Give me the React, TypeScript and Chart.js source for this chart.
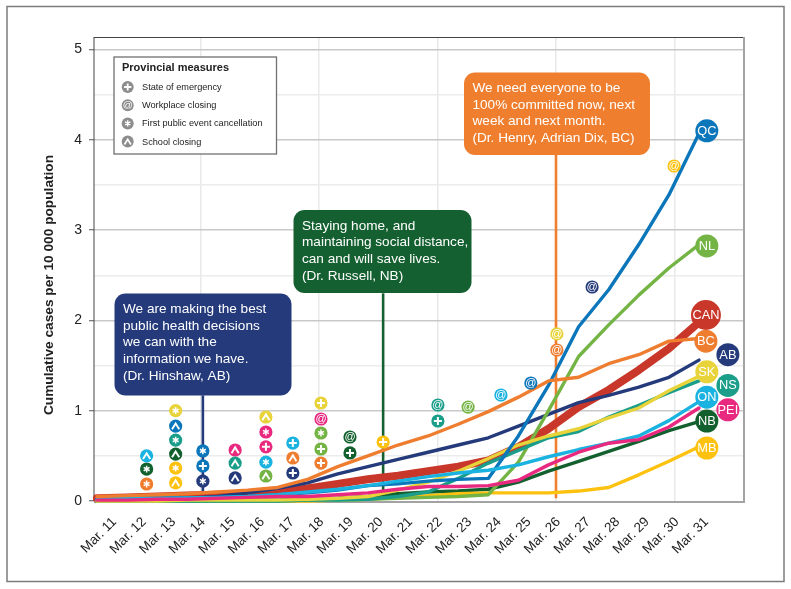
import React, { useEffect, useRef } from "react";
import { Chart, registerables } from "chart.js";

Chart.register(...registerables);

const FONT = '"Liberation Sans", Arial, sans-serif';

const dayLabels = ["Mar. 11","Mar. 12","Mar. 13","Mar. 14","Mar. 15","Mar. 16","Mar. 17","Mar. 18","Mar. 19","Mar. 20","Mar. 21","Mar. 22","Mar. 23","Mar. 24","Mar. 25","Mar. 26","Mar. 27","Mar. 28","Mar. 29","Mar. 30","Mar. 31"];
const yTitle = "Cumulative cases per 10 000 population";

const CAN = [.03,.04,.05,.06,.07,.08,.1,.14,.19,.24,.28,.33,.38,.45,.6,.8,1.04,1.23,1.45,1.69,1.98];
const BC = [.05,.06,.07,.08,.10,.12,.15,.24,.38,.5,.62,.72,.85,.99,1.15,1.33,1.37,1.52,1.62,1.77,1.80];
const AB = [.02,.02,.03,.03,.05,.09,.14,.2,.3,.38,.46,.54,.62,.70,.83,.96,1.09,1.17,1.26,1.37,1.56];
const SK = [0,0,0,.01,.01,.01,.01,.02,.03,.05,.12,.21,.33,.47,.62,.72,.80,.92,1.03,1.22,1.38];
const NS = [0,0,0,0,0,0,0,.01,.01,.02,.05,.1,.25,.42,.56,.70,.77,.93,1.06,1.2,1.33];
const ON = [.02,.03,.03,.035,.04,.05,.07,.10,.13,.17,.22,.27,.31,.34,.40,.49,.57,.64,.72,.89,1.10];
const PEI = [.01,.01,.02,.02,.03,.04,.05,.05,.07,.09,.13,.16,.16,.17,.23,.40,.54,.64,.68,.82,1.03];
const NB = [0,0,0,0,0,.01,.01,.02,.03,.05,.08,.1,.11,.13,.21,.33,.44,.55,.66,.78,.88];
const MB = [0,0,0,0,0,0,0,0,.01,.02,.04,.06,.08,.09,.09,.09,.11,.15,.29,.44,.6];
const QC = [.02,.03,.03,.035,.04,.05,.07,.09,.12,.17,.19,.22,.24,.25,.72,1.28,1.93,2.34,2.84,3.39,4.07];
const NL = [0,0,0,0,0,0,0,.01,.01,.02,.03,.04,.05,.07,.43,1.0,1.6,1.95,2.28,2.58,2.84];

const colours: Record<string, string> = {
  CAN: "#c9372a", BC: "#ef7d30", AB: "#243a7b", SK: "#e8d33b", NS: "#1a9e8a", ON: "#1ab2e0",
  PEI: "#e8297f", NB: "#13602f", MB: "#fdc10f", QC: "#0c76bb", NL: "#74b444",
};

const seriesBottomToTop: [string, number[]][] = [
  ["CAN", CAN], ["AB", AB], ["NB", NB], ["MB", MB], ["NL", NL], ["NS", NS], ["SK", SK],
  ["QC", QC], ["ON", ON], ["PEI", PEI], ["BC", BC],
];

// [province, day position on the date axis, value]
type Mark = [string, number, number];
const emergencyMarks: Mark[] = [["QC",3.07,.388],["AB",6.11,.31],["ON",6.11,.642],["PEI",5.2,.6],["SK",7.06,1.085],["NL",7.06,.576],["BC",7.06,.42],["NB",8.04,.532],["MB",9.16,.653],["NS",11.01,.886]];
const workplaceMarks: Mark[] = [["PEI",7.06,.908],["NB",8.04,.709],["NS",11.01,1.063],["NL",12.03,1.04],["ON",13.14,1.174],["QC",14.15,1.307],["SK",15.03,1.85],["BC",15.03,1.672],["AB",16.22,2.37],["MB",18.99,3.71]];
const eventMarks: Mark[] = [["BC",1.17,.188],["NB",1.17,.354],["SK",2.15,1.0],["NS",2.15,.675],["MB",2.15,.365],["QC",3.07,.554],["AB",3.07,.22],["PEI",5.2,.764],["ON",5.2,.43],["NL",7.06,.753]];
const schoolMarks: Mark[] = [["ON",1.17,.5],["QC",2.15,.83],["NB",2.15,.52],["MB",2.15,.2],["PEI",4.16,.565],["NS",4.16,.42],["AB",4.16,.255],["SK",5.2,.93],["NL",5.2,.277],["BC",6.11,.476]];

// [province, position on the series axis, value, radius]
const endLabels: [string, number, number, number][] = [
  ["CAN",20.23,2.06,15],["BC",20.23,1.77,11.5],["AB",20.96,1.62,11.5],["NS",20.96,1.28,11.5],["SK",20.26,1.43,11.5],
  ["PEI",20.96,1.01,11.5],["ON",20.26,1.15,11.5],["NB",20.26,.886,11.5],["MB",20.26,.587,11.5],["QC",20.26,4.10,11.5],["NL",20.26,2.824,11.5],
];

const legendTitle = "Provincial measures";
const legendItems: [string, string][] = [["+","State of emergency"],["@","Workplace closing"],["*","First public event cancellation"],["^","School closing"]];

const callouts = [
  { colour: "#243a7b", box: [114.5,293.5,177,102], text: ["We are making the best","public health decisions","we can with the","information we have.","(Dr. Hinshaw, AB)"] },
  { colour: "#156030", box: [293.5,210,178,83], text: ["Staying home, and","maintaining social distance,","can and will save lives.","(Dr. Russell, NB)"] },
  { colour: "#ef7f2f", box: [464,72.5,186,82.5], text: ["We need everyone to be","100% committed now, next","week and next month.","(Dr. Henry, Adrian Dix, BC)"] },
];
// [colour, day position, top value]
const calloutStems: [string, number, number][] = [["#243a7b",3.07,1.17],["#156030",9.16,2.3],["#ef7f2f",15,3.85]];

function glyph(ctx: CanvasRenderingContext2D, kind: string, x: number, y: number, s = 1) {
  ctx.save();
  ctx.strokeStyle = "#fff";
  ctx.fillStyle = "#fff";
  ctx.lineCap = "butt";
  ctx.lineJoin = "miter";
  if (kind === "+") {
    ctx.lineWidth = 2 * s;
    ctx.beginPath();
    ctx.moveTo(x - 4 * s, y); ctx.lineTo(x + 4 * s, y);
    ctx.moveTo(x, y - 4 * s); ctx.lineTo(x, y + 4 * s);
    ctx.stroke();
  } else if (kind === "^") {
    ctx.lineWidth = 1.9 * s;
    ctx.beginPath();
    ctx.moveTo(x - 3.6 * s, y + 3.2 * s); ctx.lineTo(x, y - 2.6 * s); ctx.lineTo(x + 3.6 * s, y + 3.2 * s);
    ctx.stroke();
  } else if (kind === "*") {
    ctx.lineWidth = 1.5 * s;
    ctx.beginPath();
    for (let i = 0; i < 3; i++) {
      const a = Math.PI / 2 + (i * Math.PI) / 3;
      ctx.moveTo(x - Math.cos(a) * 3.4 * s, y - Math.sin(a) * 3.4 * s);
      ctx.lineTo(x + Math.cos(a) * 3.4 * s, y + Math.sin(a) * 3.4 * s);
    }
    ctx.stroke();
  } else {
    ctx.font = `${11 * s}px ${FONT}`;
    ctx.textAlign = "center";
    ctx.textBaseline = "middle";
    ctx.fillText(kind, x, y);
  }
  ctx.restore();
}

const decorPlugin = {
  id: "decor",
  beforeDatasetsDraw(chart: any) {
    const { ctx, chartArea: a } = chart;
    ctx.save();
    ctx.strokeStyle = "#444";
    ctx.lineWidth = 1;
    ctx.beginPath();
    ctx.moveTo(a.left, a.top + 0.5); ctx.lineTo(a.right, a.top + 0.5);
    ctx.moveTo(a.left, a.top); ctx.lineTo(a.left, a.bottom);
    ctx.stroke();
    ctx.strokeStyle = "#a3a3a3";
    ctx.lineWidth = 2;
    ctx.beginPath();
    ctx.moveTo(a.right, a.top); ctx.lineTo(a.right, a.bottom + 1);
    ctx.lineTo(a.left, a.bottom + 1);
    ctx.stroke();
    ctx.restore();
  },
  afterDatasetsDraw(chart: any) {
    const { ctx } = chart;
    chart.data.datasets.forEach((ds: any, i: number) => {
      const meta = chart.getDatasetMeta(i);
      if (ds.glyph) {
        meta.data.forEach((pt: any) => glyph(ctx, ds.glyph, pt.x, pt.y));
      }
      if (ds.endNames) {
        ctx.save();
        ctx.fillStyle = "#fff";
        ctx.textAlign = "center";
        ctx.textBaseline = "middle";
        ctx.font = `12.8px ${FONT}`;
        meta.data.forEach((pt: any, j: number) => ctx.fillText(ds.endNames[j], pt.x, pt.y + 0.5));
        ctx.restore();
      }
    });
    // callouts
    ctx.save();
    callouts.forEach((c) => {
      const [x, y, w, h] = c.box;
      ctx.fillStyle = c.colour;
      ctx.beginPath();
      ctx.roundRect(x, y, w, h, 11);
      ctx.fill();
      ctx.fillStyle = "#fff";
      ctx.font = `13.6px ${FONT}`;
      ctx.textAlign = "left";
      ctx.textBaseline = "middle";
      c.text.forEach((line, k) => ctx.fillText(line, x + 8.5, y + 16 + k * 16.6));
    });
    // legend
    ctx.fillStyle = "#fff";
    ctx.fillRect(114, 57, 162.5, 97);
    ctx.strokeStyle = "#707070";
    ctx.lineWidth = 1.3;
    ctx.strokeRect(114, 57, 162.5, 97);
    ctx.fillStyle = "#222";
    ctx.font = `bold 11px ${FONT}`;
    ctx.textAlign = "left";
    ctx.textBaseline = "middle";
    ctx.fillText(legendTitle, 122, 68);
    legendItems.forEach(([kind, name], k) => {
      const y = 87 + k * 18.2;
      ctx.fillStyle = "#8d8d8d";
      ctx.beginPath();
      ctx.arc(127.7, y, 6, 0, Math.PI * 2);
      ctx.fill();
      glyph(ctx, kind, 127.7, y, 0.9);
      ctx.fillStyle = "#222";
      ctx.font = `9.2px ${FONT}`;
      ctx.textAlign = "left";
      ctx.fillText(name, 142, y + 0.5);
    });
    ctx.restore();
  },
  afterDraw(chart: any) {
    const { ctx } = chart;
    ctx.save();
    ctx.strokeStyle = "#7c7c7c";
    ctx.lineWidth = 1.5;
    ctx.strokeRect(7, 6.5, 777, 575);
    // value-axis title
    ctx.translate(49.5, 285);
    ctx.rotate(-Math.PI / 2);
    ctx.fillStyle = "#222";
    ctx.font = `bold 13.7px ${FONT}`;
    ctx.textAlign = "center";
    ctx.textBaseline = "middle";
    ctx.fillText(yTitle, 0, 0);
    ctx.restore();
  },
};

export default function App() {
  const ref = useRef<HTMLCanvasElement>(null);
  useEffect(() => {
    const stems = calloutStems.map(([colour, x, top]) => ({
      type: "line", xAxisID: "x", yAxisID: "y",
      data: [{ x, y: 0.03 }, { x, y: top }],
      borderColor: colour, borderWidth: 2.6, pointRadius: 0,
    }));
    const lines = seriesBottomToTop.map(([name, vals]) => ({
      type: "line", label: name, xAxisID: "xSeries", yAxisID: "y",
      data: vals.map((y, i) => ({ x: i, y })),
      borderColor: colours[name], borderWidth: name === "CAN" ? 8 : 3.4,
      pointRadius: 0, tension: 0, borderJoinStyle: "round", borderCapStyle: "round", clip: false,
    }));
    const markSet = (marks: Mark[], kind: string) => ({
      type: "scatter", glyph: kind, xAxisID: "x", yAxisID: "y",
      data: marks.map(([, x, y]) => ({ x, y })),
      backgroundColor: marks.map(([p]) => colours[p]),
      pointRadius: 6.6, pointBorderWidth: 0, pointHoverRadius: 6.6, clip: false,
    });
    const marks = [markSet(emergencyMarks, "+"), markSet(workplaceMarks, "@"), markSet(eventMarks, "*"), markSet(schoolMarks, "^")];
    const ends = {
      type: "scatter", xAxisID: "xSeries", yAxisID: "y",
      endNames: endLabels.map((e) => e[0]),
      data: endLabels.map(([, x, y]) => ({ x, y })),
      backgroundColor: endLabels.map(([p]) => colours[p]),
      pointRadius: endLabels.map((e) => e[3]), pointBorderWidth: 0, clip: false,
    };
    // Chart.js paints the first dataset last, so list top-most first.
    const datasets = [...stems, ...lines, ...marks, ends].reverse();

    const chart = new Chart(ref.current as HTMLCanvasElement, {
      type: "line",
      data: { datasets } as any,
      plugins: [decorPlugin] as any,
      options: {
        animation: false,
        responsive: false,
        events: [],
        layout: { padding: { left: 0, top: 37, right: 47, bottom: 0 } },
        plugins: { legend: { display: false }, tooltip: { enabled: false }, title: { display: false } },
        scales: {
          x: {
            type: "linear",
            min: (94 - 112) / 29.6,
            max: (744 - 112) / 29.6,
            afterBuildTicks(s: any) { s.ticks = dayLabels.map((_, i) => ({ value: i })); },
            afterFit(s: any) { s.height = 88; },
            grid: {
              color: (c: any) => ((c.index + 1) % 4 === 0 ? "#e9e9e9" : "rgba(0,0,0,0)"),
              lineWidth: 1.5,
              drawTicks: false,
            },
            border: { display: false },
            ticks: {
              autoSkip: false,
              maxRotation: 45, minRotation: 45,
              padding: 13,
              labelOffset: 2.5,
              color: "#222",
              font: { family: FONT, size: 13.5 },
              callback: (v: any) => dayLabels[v],
            },
          },
          xSeries: {
            type: "linear", display: false,
            min: (94 - 97) / 30.1,
            max: (744 - 97) / 30.1,
          },
          y: {
            type: "linear",
            min: 0,
            max: (501 - 37) / 90.3,
            afterBuildTicks(s: any) { s.ticks = [0,.5,1,1.5,2,2.5,3,3.5,4,4.5,5].map((value) => ({ value })); },
            afterFit(s: any) { s.width = 94; },
            grid: {
              color: (c: any) => (c.tick && c.tick.value % 1 === 0 ? (c.tick.value === 0 ? "rgba(0,0,0,0)" : "#c9c9c9") : "#ececec"),
              lineWidth: 1.5,
              tickLength: 5,
              tickColor: (c: any) => (c.tick && c.tick.value % 1 === 0 ? "#555" : "rgba(0,0,0,0)"),
              tickWidth: 1,
            },
            border: { display: false },
            ticks: {
              padding: 7,
              color: "#222",
              font: { family: FONT, size: 14 },
              callback: (v: any) => (v % 1 === 0 ? String(v) : ""),
            },
          },
        },
      } as any,
    });
    return () => chart.destroy();
  }, []);
  return (
    <div style={{ position: "absolute", left: 0, top: 0, width: 791, height: 589, background: "#fff" }}>
      <canvas ref={ref} width={791} height={589} style={{ display: "block" }} />
    </div>
  );
}
